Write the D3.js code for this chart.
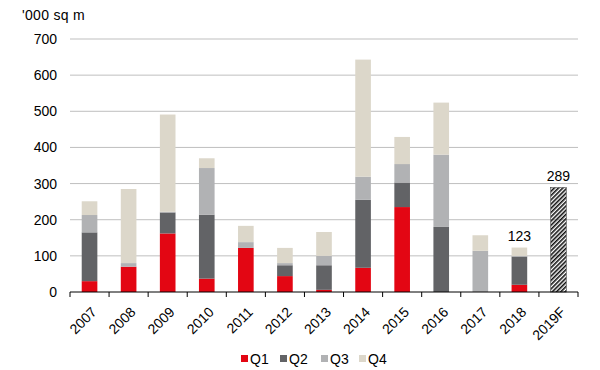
<!DOCTYPE html>
<html>
<head>
<meta charset="utf-8">
<script src="https://cdn.jsdelivr.net/npm/d3@7"></script>
<style>
  body { margin: 0; background: #fff; }
  text { font-family: "Liberation Sans", Arial, sans-serif; fill: #000; }
</style>
</head>
<body>
<div id="chart"></div>
<script>
// data ('000 sq m)
var years = ["2007","2008","2009","2010","2011","2012","2013","2014","2015","2016","2017","2018","2019F"];
var q1 = [30, 70, 162, 37, 122, 44, 6, 67, 235, 0, 0, 20, 0];
var q2 = [135, 0, 58, 177, 0, 30, 68, 188, 68, 180, 0, 78, 0];
var q3 = [48, 10, 2, 129, 16, 6, 26, 64, 51, 200, 114, 2, 0];
var q4 = [38, 205, 269, 27, 45, 42, 66, 324, 75, 144, 43, 23, 0];
var forecast = [0, 0, 0, 0, 0, 0, 0, 0, 0, 0, 0, 0, 289];
var topLabels = [null, null, null, null, null, null, null, null, null, null, null, "123", "289"];
var yTicks = [0, 100, 200, 300, 400, 500, 600, 700];
var quarters = ["Q1", "Q2", "Q3", "Q4"];
var colors = ["#e30613", "#626366", "#b1b2b4", "#dcd7ca"];

var margin = {top: 39, right: 22, bottom: 78, left: 70},
    width = 600 - margin.left - margin.right,
    height = 370 - margin.top - margin.bottom;

var svgRoot = d3.select("#chart")
  .append("svg")
    .attr("width", 600)
    .attr("height", 370);

// hatch for the forecast bar
var defs = svgRoot.append("defs");
defs.append("pattern")
    .attr("id", "hatch")
    .attr("patternUnits", "userSpaceOnUse")
    .attr("width", 3)
    .attr("height", 3)
    .attr("patternTransform", "rotate(45)")
  .append("rect")
    .attr("width", 1.6)
    .attr("height", 3)
    .attr("fill", "#111");

var svg = svgRoot.append("g")
    .attr("transform", "translate(" + margin.left + "," + margin.top + ")");

var table = years.map(function(y, i) {
  return {year: y, Q1: q1[i], Q2: q2[i], Q3: q3[i], Q4: q4[i], F: forecast[i], label: topLabels[i]};
});

var x = d3.scaleBand()
  .domain(years)
  .range([0, width])
  .paddingInner(0.6)
  .paddingOuter(0.3);

var y = d3.scaleLinear()
  .domain([0, 700])
  .range([height, 0]);

// gridlines
svg.selectAll(".grid")
  .data(yTicks.slice(1))
  .enter()
  .append("line")
    .attr("x1", 0)
    .attr("x2", width)
    .attr("y1", function(d) { return y(d); })
    .attr("y2", function(d) { return y(d); })
    .attr("stroke", "#bfbfbf")
    .attr("stroke-width", 1);

// y labels
svg.selectAll(".ylab")
  .data(yTicks)
  .enter()
  .append("text")
    .attr("x", -13)
    .attr("y", function(d) { return y(d); })
    .attr("dy", "0.36em")
    .attr("text-anchor", "end")
    .style("font-size", "14px")
    .text(function(d) { return d; });

svg.append("text")
    .attr("x", -48)
    .attr("y", -19)
    .style("font-size", "14px")
    .style("letter-spacing", "0.3px")
    .text("'000 sq m");

// stacked bars
var stack = d3.stack().keys(quarters)(table);

svg.selectAll(".series")
  .data(stack)
  .enter()
  .append("g")
    .attr("fill", function(d, i) { return colors[i]; })
  .selectAll("rect")
  .data(function(d) { return d; })
  .enter()
  .append("rect")
    .attr("x", function(d) { return x(d.data.year); })
    .attr("y", function(d) { return y(d[1]); })
    .attr("height", function(d) { return y(d[0]) - y(d[1]); })
    .attr("width", x.bandwidth());

// forecast bar
svg.selectAll(".fc")
  .data(table.filter(function(d) { return d.F > 0; }))
  .enter()
  .append("rect")
    .attr("x", function(d) { return x(d.year); })
    .attr("y", function(d) { return y(d.F); })
    .attr("height", function(d) { return y(0) - y(d.F); })
    .attr("width", x.bandwidth())
    .attr("fill", "url(#hatch)")
    .attr("stroke", "#333")
    .attr("stroke-width", 0.5);

// value labels
svg.selectAll(".vlab")
  .data(table.filter(function(d) { return d.label; }))
  .enter()
  .append("text")
    .attr("x", function(d) { return x(d.year) + x.bandwidth() / 2; })
    .attr("y", function(d) { return y(d.Q1 + d.Q2 + d.Q3 + d.Q4 + d.F) - 7; })
    .attr("text-anchor", "middle")
    .style("font-size", "14px")
    .text(function(d) { return d.label; });

// x axis
var xAxis = svg.append("g")
    .attr("transform", "translate(0," + height + ")");
xAxis.append("line")
    .attr("x1", 0)
    .attr("x2", width)
    .attr("stroke", "#000");
xAxis.selectAll(".tick")
  .data(d3.range(years.length + 1))
  .enter()
  .append("line")
    .attr("x1", function(i) { return i * x.step(); })
    .attr("x2", function(i) { return i * x.step(); })
    .attr("y1", 0)
    .attr("y2", 5)
    .attr("stroke", "#000");
xAxis.selectAll(".xlab")
  .data(years)
  .enter()
  .append("text")
    .attr("transform", function(d) {
      return "translate(" + (x(d) + x.bandwidth() / 2 + 1) + ",14)rotate(-45)";
    })
    .attr("text-anchor", "end")
    .attr("dy", "0.7em")
    .style("font-size", "14px")
    .text(function(d) { return d; });

// legend
var legend = svgRoot.append("g")
    .attr("transform", "translate(241,355)");
var item = legend.selectAll(".leg")
  .data(quarters)
  .enter()
  .append("g")
    .attr("transform", function(d, i) { return "translate(" + [0, 39, 80, 118][i] + ",0)"; });
item.append("rect")
    .attr("width", 7)
    .attr("height", 7)
    .attr("fill", function(d, i) { return colors[i]; });
item.append("text")
    .attr("x", 9)
    .attr("y", 9)
    .style("font-size", "14px")
    .text(function(d) { return d; });
</script>
</body>
</html>
